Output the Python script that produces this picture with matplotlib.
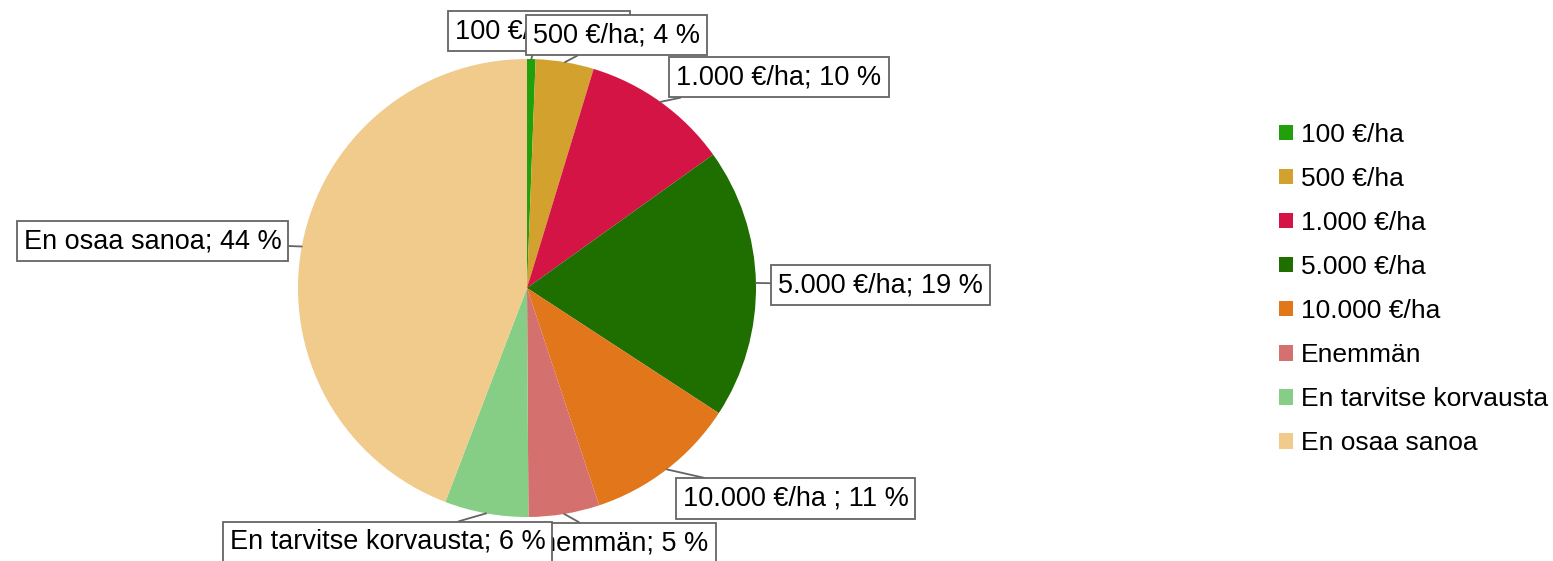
import numpy as np
import matplotlib
matplotlib.use("Agg")
import matplotlib.pyplot as plt

# slice shares (percent)
categories = ["100 €/ha", "500 €/ha", "1.000 €/ha", "5.000 €/ha", "10.000 €/ha",
              "Enemmän", "En tarvitse korvausta", "En osaa sanoa"]
values = [0.6, 4.1, 10.4, 19.1, 10.7, 5.0, 5.9, 44.2]
label_texts = ["100 €/ha; 1 %", "500 €/ha; 4 %", "1.000 €/ha; 10 %", "5.000 €/ha; 19 %",
               "10.000 €/ha ; 11 %", "Enemmän; 5 %", "En tarvitse korvausta; 6 %",
               "En osaa sanoa; 44 %"]
colors = ["#21A00B", "#D3A12E", "#D31445", "#1E6E00", "#E1761B",
          "#D4706E", "#86CD86", "#F0CB8B"]

# label box centres in pixels (x from left, y from top)
label_pos = [(539, 31), (616.5, 35), (779, 77), (880.5, 285),
             (795.5, 498.5), (616, 543), (387.5, 542), (152.5, 241)]

W, H = 1553, 561
FS = 19.5
plt.rcParams['font.family'] = ['Liberation Sans', 'DejaVu Sans']

fig = plt.figure(figsize=(W / 100, H / 100), dpi=100)
ax = fig.add_axes([0, 0, 1, 1])

cx, cy, r = 527, H - 288, 229
wedges, _ = ax.pie(values, colors=colors, startangle=90, counterclock=False,
                   center=(cx, cy), radius=r, wedgeprops=dict(linewidth=0))
ax.set_xlim(0, W)
ax.set_ylim(0, H)
ax.set_aspect('equal')
ax.axis('off')

for w, txt, (px, py) in zip(wedges, label_texts, label_pos):
    ang = np.deg2rad((w.theta1 + w.theta2) / 2)
    xy = (cx + r * np.cos(ang), cy + r * np.sin(ang))
    ax.annotate(txt, xy=xy, xytext=(px, H - py), ha='center', va='center',
                fontsize=FS, color='black',
                bbox=dict(boxstyle='square,pad=0.26', fc='white', ec='#646464', lw=1.3),
                arrowprops=dict(arrowstyle='-', color='#646464', lw=1.3,
                                shrinkA=0, shrinkB=0),
                annotation_clip=False)

leg = fig.legend(wedges, categories, loc='center left',
                 bbox_to_anchor=(1279 / W, (H - 289) / H), frameon=False,
                 fontsize=19, handlelength=0.53, handleheight=0.53,
                 handletextpad=0.3, labelspacing=0.76, borderpad=0, borderaxespad=0)

fig.savefig("out.png", dpi=100)
